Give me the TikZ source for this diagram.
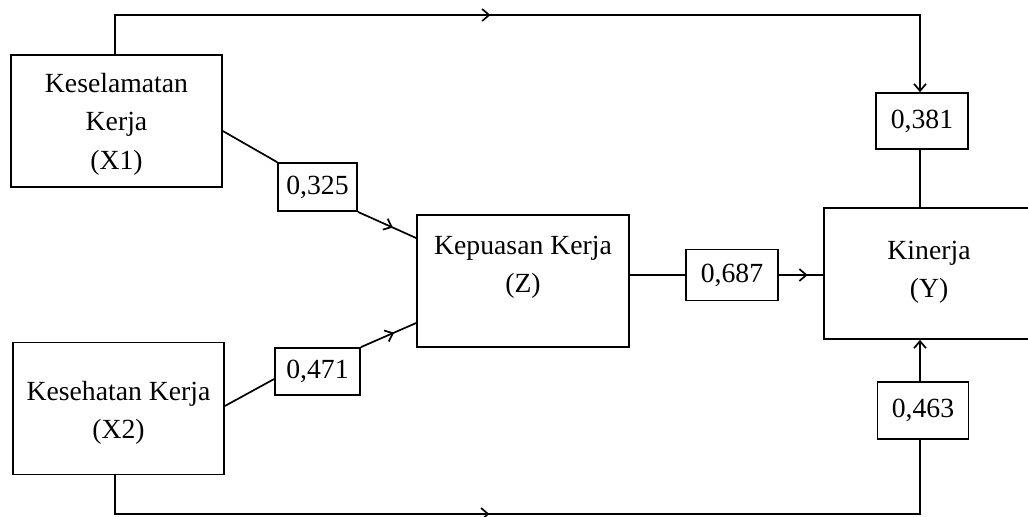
\documentclass[tikz,border=0pt]{standalone}
\usepackage{fontspec}
\setmainfont{Liberation Serif}
\usetikzlibrary{positioning,calc,arrows.meta,decorations.markings}

\begin{document}
\begin{tikzpicture}[x=0.5pt, y=-0.5pt,
	font=\fontsize{13.85}{19.25}\selectfont,
	line width=0.85pt,
	>={Straight Barb[length=3.5pt,width=6pt]},
	var/.style={draw, minimum width=105.5pt, minimum height=66pt, inner sep=0pt},
	coef/.style={draw, inner sep=0pt},
	midarr/.style={postaction={decorate}, decoration={markings, mark=at position #1 with {\arrow{>}}}},
]
	\clip (0,0) rectangle (1028,516);

	\node[var] (x1) at (116.5,121) {};
	\node[var] (x2) at (118.5,408.5) {};
	\node[var, minimum width=106pt] (z) at (523,281) {};
	\node[var, minimum width=105pt, minimum height=65.5pt] (y) at (929,273.5) {};

	\node[align=center] (x1txt) at ($(x1)+(0,3)$) {Keselamatan\\Kerja\\(X1)};
	\node[align=center] (x2txt) at ($(x2)+(0,4.5)$) {Kesehatan Kerja\\(X2)};
	\node[align=center] (ztxt) at ($(z)+(0,-13.5)$) {Kepuasan Kerja\\(Z)};
	\node[align=center] (ytxt) at ($(y)+(0,-1)$) {Kinerja\\(Y)};

	\node[coef, minimum width=39.5pt, minimum height=24pt] (w1) at (317.5,187) {0,325};
	\node[coef, minimum width=42.5pt, minimum height=23.5pt] (w2) at (317.5,371.5) {0,471};
	\node[coef, minimum width=46pt, minimum height=25.5pt] (w3) at (732,275) {0,687};
	\node[coef, minimum width=46pt, minimum height=28pt] (w4) at (922,121) {0,381};
	\node[coef, minimum width=45.5pt, minimum height=28.5pt] (w5) at (923,410.5) {0,463};

	\coordinate (tl) at (115,15);
	\coordinate (tr) at (920,15);
	\coordinate (bl) at (115,514);
	\coordinate (br) at (920,514);

	\draw ($(x1.east)+(0,10)$) -- (w1.north west);
	\draw[midarr=0.6] (w1.south east) -- ($(z.west)+(0,-43)$);
	\draw ($(x2.east)+(0,-2.5)$) -- ($(w2.west)+(0,7.5)$);
	\draw[midarr=0.6] (w2.north east) -- ($(z.west)+(0,42)$);
	\draw (w3.west -| z.east) -- (w3.west);
	\draw[midarr=0.65] (w3.east) -- (w3.east -| y.west);
	\draw[->, midarr=0.45] (x1.north -| tl) -- (tl) -- (tr) -- (w4.north -| tr);
	\draw (w4.south -| tr) -- (y.north -| tr);
	\draw[midarr=0.45] (x2.south -| bl) -- (bl) -- (br) -- (w5.south -| br);
	\draw[->] (w5.north -| br) -- (y.south -| br);
\end{tikzpicture}
\end{document}
